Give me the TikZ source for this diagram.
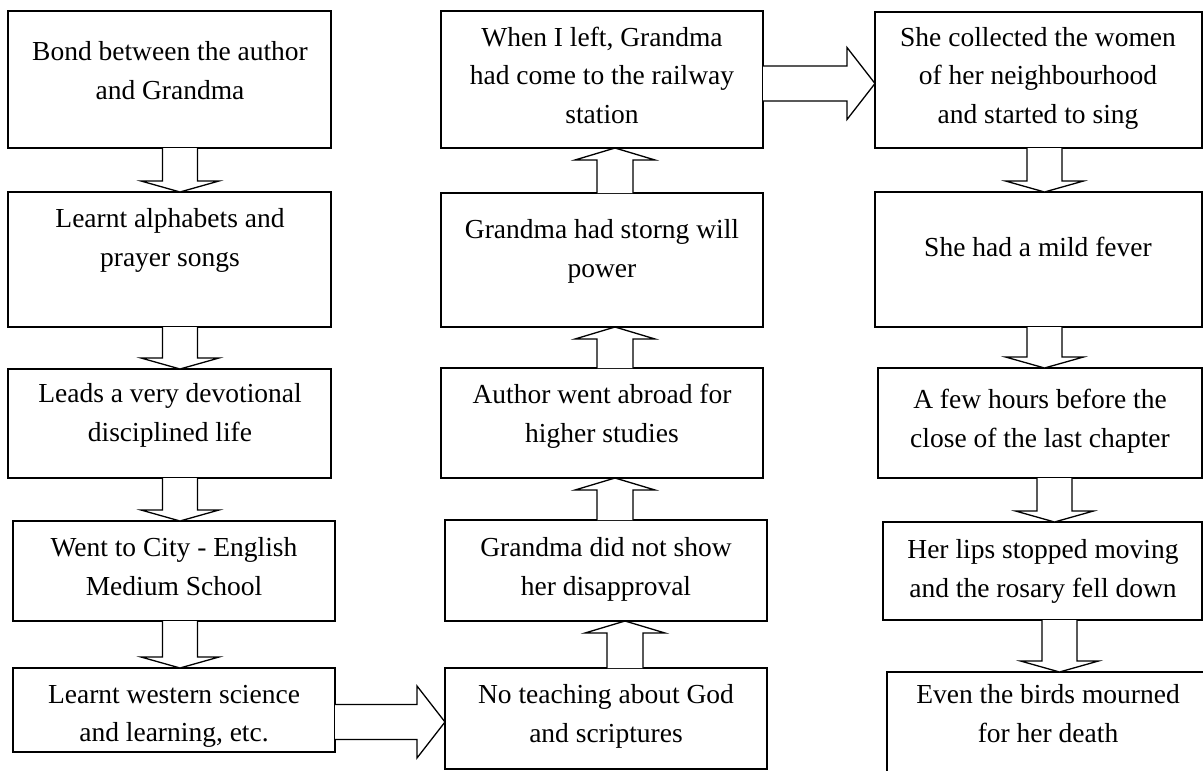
\documentclass[tikz,border=0pt]{standalone}
\usepackage{fontspec}
\setmainfont{Liberation Serif}
\usetikzlibrary{calc}

\tikzset{
  flowbox/.style={draw=black, line width=1.5pt, outer sep=0pt, inner sep=0pt},
  flowtext/.style={font=\fontsize{27.5}{38.5}\selectfont, align=center, inner sep=0pt,
    execute at begin node=\strut, execute at end node=\strut},
  blockarrow/.style={draw=black, fill=white, line width=1.3pt, line join=miter}
}

% box given by its left, top, right and bottom edges
\newcommand{\mkbox}[5]{%
  \node[flowbox, minimum width={(#4-#2)*1pt}, minimum height={(#5-#3)*1pt}]
    (#1) at ({(#2+#4)/2},{(#3+#5)/2}) {};}

% hollow block arrow pointing down, shaft centred at x = #3
\newcommand{\arrowdown}[3]{%
  \draw[blockarrow] let \p1=(#1.south), \p2=(#2.north) in
    (#3pt-17.5pt,\y1) -- (#3pt-17.5pt,\y2+11pt) -- (#3pt-39pt,\y2+11pt) -- (#3pt,\y2)
    -- (#3pt+39pt,\y2+11pt) -- (#3pt+17.5pt,\y2+11pt) -- (#3pt+17.5pt,\y1);}

% hollow block arrow pointing up, shaft centred at x = #3
\newcommand{\arrowup}[3]{%
  \draw[blockarrow] let \p1=(#1.north), \p2=(#2.south) in
    (#3pt-18pt,\y1) -- (#3pt-18pt,\y2-12pt) -- (#3pt-40pt,\y2-12pt) -- (#3pt,\y2)
    -- (#3pt+40pt,\y2-12pt) -- (#3pt+18pt,\y2-12pt) -- (#3pt+18pt,\y1);}

% hollow block arrow pointing right, centred at depth #3
\newcommand{\arrowright}[3]{%
  \draw[blockarrow] let \p1=(#1.east), \p2=(#2.west) in
    (\x1,-#3pt+17.5pt) -- (\x2-28pt,-#3pt+17.5pt) -- (\x2-28pt,-#3pt+36pt) -- (\x2,-#3pt)
    -- (\x2-28pt,-#3pt-36pt) -- (\x2-28pt,-#3pt-17.5pt) -- (\x1,-#3pt-17.5pt);}

\begin{document}
\begin{tikzpicture}[x=1pt, y=-1pt]
\useasboundingbox (0,0) rectangle (1203,771);

% left column
\mkbox{a1}{8}{11}{331}{148}
\mkbox{a2}{8}{192}{331}{327}
\mkbox{a3}{8}{369}{331}{478}
\mkbox{a4}{13}{521}{335}{621}
\mkbox{a5}{13}{668}{335}{752}
\node[flowtext] (a1t) at (170,76) {Bond between the author\\and Grandma};
\node[flowtext] (a2t) at (170,243) {Learnt alphabets and\\prayer songs};
\node[flowtext] (a3t) at (170,418) {Leads a very devotional\\disciplined life};
\node[flowtext] (a4t) at (174,572) {Went to City - English\\Medium School};
\node[flowtext] (a5t) at (174,719) {Learnt western science\\and learning, etc.};

% middle column
\mkbox{b1}{441}{11}{763}{148}
\mkbox{b2}{441}{193}{763}{327}
\mkbox{b3}{441}{368}{763}{478}
\mkbox{b4}{445}{520}{767}{621}
\mkbox{b5}{445}{668}{767}{769}
\node[flowtext] (b1t) at (602,81) {When I left, Grandma\\had come to the railway\\station};
\node[flowtext] (b2t) at (602,254) {Grandma had storng will\\power};
\node[flowtext] (b3t) at (602,419) {Author went abroad for\\higher studies};
\node[flowtext] (b4t) at (606,572) {Grandma did not show\\her disapproval};
\node[flowtext] (b5t) at (606,719) {No teaching about God\\and scriptures};

% right column
\mkbox{c1}{875}{12}{1202}{148}
\mkbox{c2}{875}{192}{1202}{327}
\mkbox{c3}{878}{368}{1202}{478}
\mkbox{c4}{883}{522}{1202}{620}
\begin{scope}
  \clip (0,0) rectangle (1203,771);
  \mkbox{c5}{887}{672}{1240}{800}
\end{scope}
\node[flowtext] (c1t) at (1038,81) {She collected the women\\of her neighbourhood\\and started to sing};
\node[flowtext] (c2t) at (1038,249) {She had a mild fever};
\node[flowtext] (c3t) at (1040,424) {A few hours before the\\close of the last chapter};
\node[flowtext] (c4t) at (1043,574) {Her lips stopped moving\\and the rosary fell down};
\node[flowtext] (c5t) at (1048,719) {Even the birds mourned\\for her death};

% connectors
\arrowdown{a1}{a2}{180}
\arrowdown{a2}{a3}{180}
\arrowdown{a3}{a4}{180}
\arrowdown{a4}{a5}{180}
\arrowright{a5}{b5}{722}
\arrowup{b5}{b4}{625}
\arrowup{b4}{b3}{615}
\arrowup{b3}{b2}{615}
\arrowup{b2}{b1}{615}
\arrowright{b1}{c1}{83.5}
\arrowdown{c1}{c2}{1044.5}
\arrowdown{c2}{c3}{1044.5}
\arrowdown{c3}{c4}{1054.5}
\arrowdown{c4}{c5}{1059.5}
\end{tikzpicture}
\end{document}
